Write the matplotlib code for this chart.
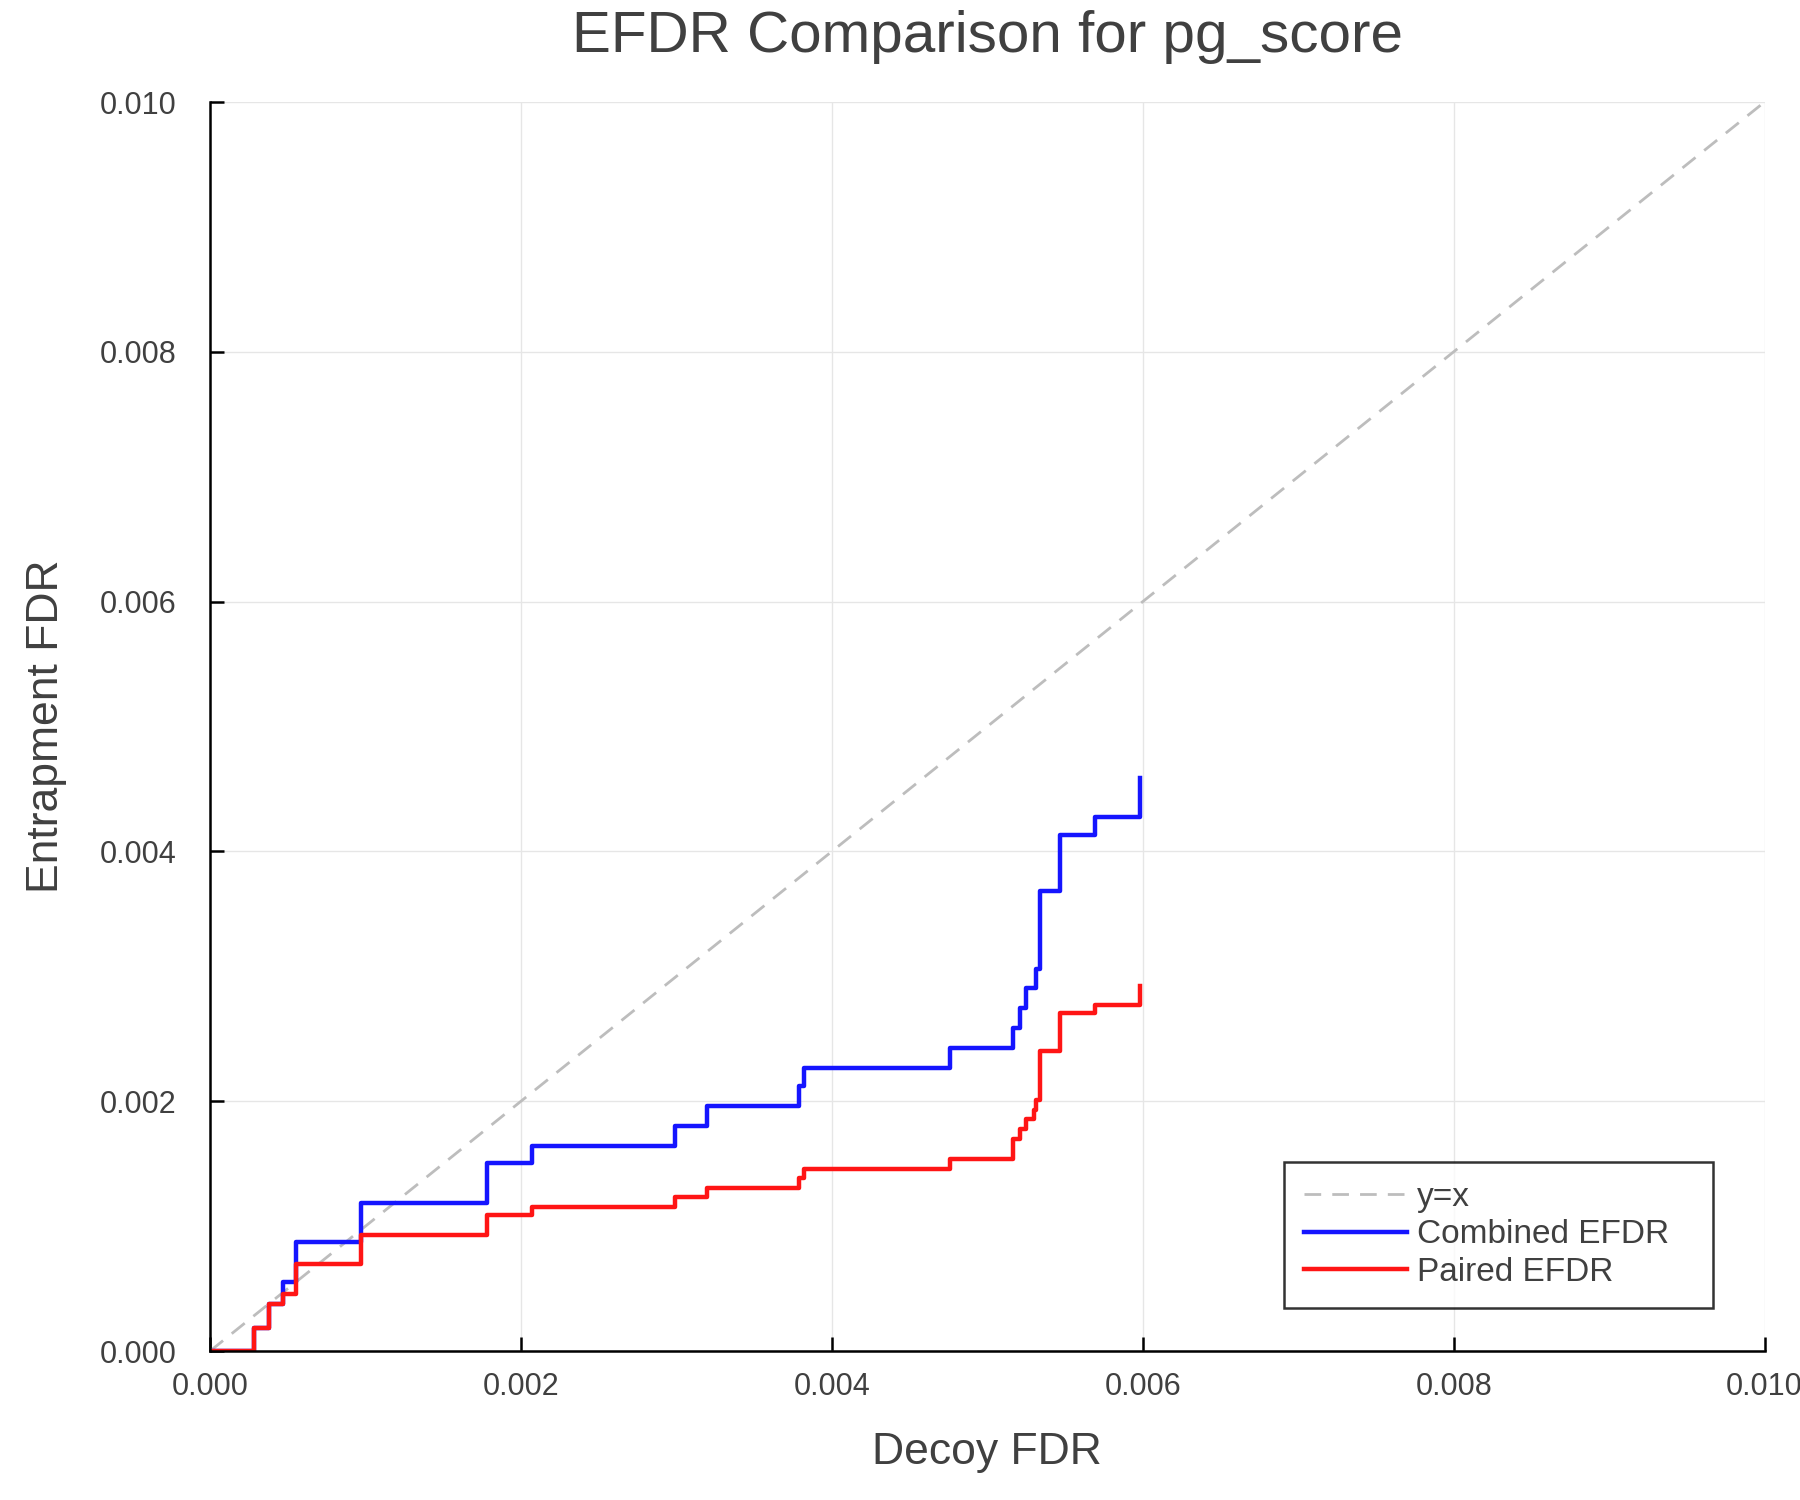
import matplotlib
matplotlib.use("Agg")
import matplotlib.pyplot as plt

# ---- data ----
decoy_fdr = [0.0, 0.000283, 0.00038, 0.000468, 0.000553, 0.00097, 0.00178, 0.00207,
             0.002992, 0.003196, 0.003786, 0.003818, 0.004762, 0.005165, 0.005208,
             0.005247, 0.005300, 0.005315, 0.00534, 0.005466, 0.00569, 0.00598]
combined_efdr = [0.0, 0.000187, 0.000376, 0.00055, 0.00087, 0.001182, 0.001503, 0.001644,
                 0.001804, 0.001962, 0.002122, 0.002268, 0.002423, 0.002584, 0.002744,
                 0.002904, 0.002904, 0.003056, 0.003685, 0.004131, 0.004278, 0.004585]
paired_efdr = [0.0, 0.000187, 0.000376, 0.000456, 0.000697, 0.000932, 0.001089, 0.00115,
               0.00123, 0.001308, 0.001382, 0.001457, 0.001535, 0.001697, 0.001775,
               0.001855, 0.00193, 0.00201, 0.002405, 0.002704, 0.00277, 0.002925]
diag = [0.0, 0.010]
ticks = [0.000, 0.002, 0.004, 0.006, 0.008, 0.010]
tick_labels = ["0.000", "0.002", "0.004", "0.006", "0.008", "0.010"]

plt.rcParams['font.family'] = ['Liberation Sans', 'DejaVu Sans']
text_col = '#404040'

fig = plt.figure(figsize=(18, 15), dpi=100)
ax = fig.add_axes([0.1167, 0.0993, 0.8636, 0.8327])

ax.plot(diag, diag, linestyle=(0, (6, 4)), color='#bdbdbd', linewidth=2.0, label='y=x')
ax.plot(decoy_fdr, combined_efdr, drawstyle='steps-post', color='#1515ff', linewidth=3.2,
        label='Combined EFDR')
ax.plot(decoy_fdr, paired_efdr, drawstyle='steps-post', color='#ff1515', linewidth=3.2,
        label='Paired EFDR')

ax.set_xlim(0, 0.010)
ax.set_ylim(0, 0.010)
ax.set_xticks(ticks)
ax.set_xticklabels(tick_labels)
ax.set_yticks(ticks)
ax.set_yticklabels(tick_labels)
ax.grid(True, color='#e6e6e6', linewidth=1.0)
ax.set_axisbelow(True)
for s in ['top', 'right']:
    ax.spines[s].set_visible(False)
for s in ['left', 'bottom']:
    ax.spines[s].set_linewidth(1.8)
    ax.spines[s].set_color('black')
ax.tick_params(axis='both', direction='in', length=10, width=1.8, labelsize=22,
               labelcolor=text_col)
ax.tick_params(axis='y', pad=24)
ax.tick_params(axis='x', pad=15)

ax.set_title('EFDR Comparison for pg_score', fontsize=42, color=text_col, pad=36)
ax.set_xlabel('Decoy FDR', fontsize=32, color=text_col, labelpad=22)
ax.set_ylabel('Entrapment FDR', fontsize=32, color=text_col, labelpad=24)

leg = ax.legend(loc='lower left', bbox_to_anchor=(0.6906, 0.0344, 0.2764, 0.1201),
                mode='expand', fontsize=24, frameon=True, fancybox=False,
                handlelength=3.1, borderpad=0.6, labelspacing=0.2,
                handletextpad=0.3, borderaxespad=0)
leg.get_frame().set_edgecolor('black')
leg.get_frame().set_linewidth(1.8)
for t in leg.get_texts():
    t.set_color(text_col)

fig.savefig('out.png', dpi=100)
